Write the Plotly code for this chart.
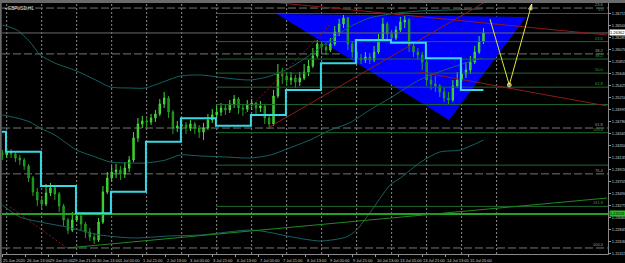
import plotly.graph_objects as go

# ---------------- data ----------------
# 3-hour candles; x = H1 bar index counted from 26 Jun 00:00
first_bar = -3
bar_step = 3
open0 = 1.24212
closes = [1.24176,1.24230,1.24194,1.24122,1.24086,1.23979,1.23764,1.23513,1.23370,1.23298,
 1.23495,1.23585,1.23477,1.23262,1.23011,1.22832,1.23011,1.23083,1.22940,1.22796,
 1.22707,1.22653,1.22975,1.23513,1.23764,1.23871,1.23907,1.23835,1.23943,1.24086,
 1.24481,1.24731,1.24785,1.24767,1.24839,1.24911,1.25090,1.25197,1.24946,1.24660,
 1.24696,1.24713,1.24660,1.24731,1.24660,1.24588,1.24660,1.24803,1.24893,1.24946,
 1.25018,1.24982,1.25090,1.25179,1.25018,1.25000,1.25072,1.25108,1.25018,1.25054,
 1.24839,1.24731,1.25233,1.25627,1.25591,1.25520,1.25556,1.25484,1.25556,1.25663,
 1.25771,1.25950,1.26165,1.26111,1.26057,1.26165,1.26380,1.26523,1.26631,1.26165,
 1.26021,1.25914,1.25878,1.25932,1.25878,1.26021,1.26236,1.26523,1.26344,1.26272,
 1.26416,1.26559,1.26595,1.26129,1.26021,1.25968,1.25842,1.25520,1.25448,1.25412,
 1.25305,1.25197,1.25161,1.25412,1.25520,1.25627,1.25699,1.25842,1.26021,1.26201,
 1.26362]
highs = [1.24265,1.24301,1.24283,1.24230,1.24176,1.24122,1.24015,1.23800,1.23585,1.23441,
 1.23656,1.23674,1.23620,1.23513,1.23298,1.23047,1.23155,1.23190,1.23119,1.22975,
 1.22868,1.22778,1.23047,1.23620,1.23871,1.23979,1.24015,1.23979,1.24050,1.24158,
 1.24588,1.24839,1.24875,1.24857,1.24911,1.24982,1.25179,1.25305,1.25233,1.24982,
 1.24785,1.24803,1.24767,1.24803,1.24767,1.24713,1.24749,1.24911,1.25000,1.25054,
 1.25108,1.25090,1.25161,1.25251,1.25215,1.25090,1.25161,1.25179,1.25126,1.25143,
 1.25090,1.24893,1.25341,1.25806,1.25735,1.25663,1.25663,1.25609,1.25663,1.25806,
 1.25878,1.26093,1.26236,1.26201,1.26165,1.26272,1.26487,1.26613,1.26684,1.26648,
 1.26201,1.26093,1.25986,1.26021,1.26003,1.26129,1.26344,1.26631,1.26559,1.26416,
 1.26487,1.26648,1.26666,1.26631,1.26165,1.26093,1.26021,1.25878,1.25627,1.25591,
 1.25448,1.25376,1.25305,1.25520,1.25663,1.25771,1.25842,1.25950,1.26129,1.26308,
 1.26451]
lows = [1.24086,1.24122,1.24122,1.24050,1.23997,1.23907,1.23692,1.23441,1.23262,1.23190,
 1.23262,1.23441,1.23370,1.23155,1.22904,1.22760,1.22796,1.22975,1.22832,1.22689,
 1.22635,1.22581,1.22617,1.22940,1.23477,1.23692,1.23764,1.23728,1.23764,1.23871,
 1.24050,1.24409,1.24660,1.24660,1.24713,1.24767,1.24875,1.25018,1.24839,1.24552,
 1.24588,1.24606,1.24552,1.24606,1.24552,1.24481,1.24445,1.24624,1.24749,1.24839,
 1.24875,1.24893,1.24928,1.25018,1.24911,1.24875,1.24946,1.24982,1.24911,1.24946,
 1.24731,1.24642,1.24696,1.25197,1.25448,1.25412,1.25430,1.25376,1.25412,1.25520,
 1.25591,1.25735,1.25914,1.26003,1.25968,1.26021,1.26129,1.26308,1.26451,1.26057,
 1.25914,1.25824,1.25806,1.25824,1.25806,1.25842,1.25986,1.26201,1.26236,1.26183,
 1.26236,1.26380,1.26451,1.26021,1.25932,1.25878,1.25699,1.25412,1.25341,1.25305,
 1.25215,1.25126,1.25090,1.25126,1.25376,1.25484,1.25556,1.25627,1.25806,1.25986,
 1.26165]

# envelope / band indicator lines
upper_bars = [-3, 7, 16, 23, 33, 48, 61, 71, 85, 95, 109, 119, 133, 150, 167, 181, 194, 208, 222, 235, 249, 263, 283, 304, 326]
upper_vals = [1.26505,1.26416,1.26201,1.25968,1.25824,1.25681,1.25520,1.25394,1.25376,1.25376,1.25502,1.25591,1.25609,
              1.25556,1.25520,1.25591,1.25735,1.25968,1.26236,1.26469,1.26631,1.26702,1.26756,1.26774,1.26792]
middle_bars = upper_bars
middle_vals = [1.24893,1.24839,1.24767,1.24660,1.24534,1.24265,1.24140,1.24050,1.24032,1.24032,1.24086,1.24176,1.24158,
               1.24140,1.24122,1.24176,1.24301,1.24445,1.24624,1.24749,1.24982,1.25197,1.25520,1.25735,1.25914]
lower_bars = [-3, 9, 23, 41, 64, 87, 112, 133, 167, 179, 192, 215, 233, 240, 249, 263, 270, 284, 297, 311, 327]
lower_vals = [1.23280,1.23065,1.22975,1.22886,1.22743,1.22689,1.22725,1.22743,1.22832,1.22796,1.22725,1.22635,1.22707,
              1.22832,1.23137,1.23638,1.23764,1.24050,1.24230,1.24265,1.24445]

# daily step line (cyan)
step_bars = [-3.5, -0.5, 23.5, 47.5, 71.5, 95.5, 119.5, 143.5, 167.5, 191.5, 215.5, 239.5, 263.5, 287.5, 311.5, 327]
step_vals = [1.24593,1.24235,1.23620,1.23131,1.23518,1.24414,1.24834,1.24701,1.24893,1.25341,1.25819,1.26236,1.26188,
             1.25908,1.25341,1.25341]

# drawing objects
tri_bars = [185.4, 356.2, 303.4]
tri_prices = [1.26702, 1.26648, 1.24803]
zig_bars = [331.5, 344.7, 360.1]
zig_prices = [1.26607, 1.25430, 1.26881]
red_solid = [[(166.9, 1.26953), (411.7, 1.26326)],
             [(283.5, 1.25663), (411.7, 1.25054)],
             [(179.2, 1.24660), (328.1, 1.26917)]]
red_dotted = [[(163.5, 1.24928), (221.7, 1.26505)],
              [(2.3, 1.23244), (41.4, 1.22510)]]
green_trend = [(41.4, 1.22510), (411.7, 1.23405)]
hline_price = 1.23119

fib_ratios = [0.236, 0.382, 0.618, 0.764, 1.0]
fib_gray_labels = ["23.6", "38.2", "61.8", "76.4", "100.0"]
fib_gray_p0, fib_gray_p100 = 1.28136, 1.22510
fib_green_ratios = [0.0, 0.236, 0.382, 0.5, 0.618, 0.764, 1.0, 1.272, 1.618]
fib_green_labels = ["0.0", "23.6", "38.2", "50.0", "61.8", "", "100.0", "", "161.8"]
fib_green_p0, fib_green_p100 = 1.26711, 1.24575
fib_green_start = 144

day_separators = [0, 24, 48, 72, 96, 120, 144, 168, 192, 216, 240, 264, 288, 312, 336]
time_label_bars = [-3, 13, 29, 45, 61, 77, 93, 109, 125, 141, 157, 173, 189, 205, 221, 237, 253, 269, 285, 301, 317]
time_labels = ["25 Jun 2020", "26 Jun 13:00", "29 Jun 05:00", "29 Jun 21:00", "30 Jun 13:00", "1 Jul 05:00",
               "1 Jul 21:00", "2 Jul 13:00", "3 Jul 05:00", "3 Jul 21:00", "6 Jul 13:00", "7 Jul 05:00",
               "7 Jul 21:00", "8 Jul 13:00", "9 Jul 05:00", "9 Jul 21:00", "10 Jul 13:00", "13 Jul 05:00",
               "13 Jul 21:00", "14 Jul 13:00", "15 Jul 05:00"]
price_ticks = [1.22415 + 0.00215 * k for k in range(21)]

X_RANGE = [-3.22, 412.4]
Y_RANGE = [1.22402, 1.26899]
FONT = "Liberation Sans"

# ---------------- figure ----------------
bars = [first_bar + bar_step * i for i in range(len(closes))]
opens = [open0] + closes[:-1]

fig = go.Figure()
fig.add_trace(go.Candlestick(
    x=bars, open=opens, high=highs, low=lows, close=closes,
    increasing=dict(line=dict(color="#46dc38", width=1), fillcolor="#2cb82c"),
    decreasing=dict(line=dict(color="#23a023", width=1), fillcolor="#148414"),
    whiskerwidth=0, showlegend=False, hoverinfo="skip"))

def line(x, y, color, width=1, dash=None, shape="linear"):
    fig.add_trace(go.Scatter(x=x, y=y, mode="lines", hoverinfo="skip", showlegend=False,
                             line=dict(color=color, width=width, dash=dash, shape=shape, smoothing=0.7 if shape == "spline" else None)))

teal = "#176262"
line(upper_bars, upper_vals, teal, shape="spline")
line(middle_bars, middle_vals, teal, shape="spline")
line(lower_bars, lower_vals, teal, shape="spline")

# green fibonacci levels
for r, lab in zip(fib_green_ratios, fib_green_labels):
    p = fib_green_p0 + r * (fib_green_p100 - fib_green_p0)
    line([fib_green_start, X_RANGE[1]], [p, p], "#1f6a2e")
    if lab:
        fig.add_annotation(x=411.3, y=p, text=lab, showarrow=False, xanchor="right", yanchor="bottom",
                           font=dict(family=FONT, size=4, color="#3c9a4c"), yshift=-1)

# bid line
line(X_RANGE, [closes[-1], closes[-1]], "#6a6a6a")
# horizontal level line
line(X_RANGE, [hline_price, hline_price], "#22a322", width=2)
# green trend line
line([green_trend[0][0], green_trend[1][0]], [green_trend[0][1], green_trend[1][1]], "#1f8a1f")
# red lines
for seg in red_solid:
    line([seg[0][0], seg[1][0]], [seg[0][1], seg[1][1]], "#8e1a1a")
for seg in red_dotted:
    line([seg[0][0], seg[1][0]], [seg[0][1], seg[1][1]], "#8e1a1a", dash="2px,2px")
# cyan daily step
line(step_bars, step_vals, "#3ad8e2", width=2, shape="hv")
# yellow zigzag
fig.add_trace(go.Scatter(x=zig_bars, y=zig_prices, mode="lines+markers", hoverinfo="skip", showlegend=False,
                         line=dict(color="#e8e640", width=1),
                         marker=dict(color="#e8e640", size=[0, 4, 6], symbol=["circle", "circle", "arrow"],
                                     angleref="previous")))

shapes = []
# blue triangle
shapes.append(dict(type="path", layer="below", xref="x", yref="y", line=dict(width=0),
                   fillcolor="#0000fa",
                   path="M {},{} L {},{} L {},{} Z".format(tri_bars[0], tri_prices[0], tri_bars[1], tri_prices[1],
                                                           tri_bars[2], tri_prices[2])))
# day separators
for b in day_separators:
    shapes.append(dict(type="line", layer="below", xref="x", yref="paper", x0=b, x1=b, y0=0, y1=1,
                       line=dict(color="#8c8c8c", width=1, dash="2px,2px")))
# gray fibonacci dashed levels
for r, lab in zip(fib_ratios, fib_gray_labels):
    p = fib_gray_p0 + r * (fib_gray_p100 - fib_gray_p0)
    shapes.append(dict(type="line", layer="below", xref="paper", yref="y", x0=0, x1=1, y0=p, y1=p,
                       line=dict(color="#767676", width=1, dash="8px,3px")))
    fig.add_annotation(x=411.3, y=p, text=lab, showarrow=False, xanchor="right", yanchor="bottom",
                       font=dict(family=FONT, size=4, color="#9a9a9a"), yshift=-1)
# frame strips
shapes.append(dict(type="rect", xref="paper", yref="paper", x0=-0.01, x1=1.05, y0=1.0, y1=1.013,
                   fillcolor="#6a6a6a", line=dict(width=0)))
shapes.append(dict(type="rect", xref="paper", yref="paper", x0=-0.0034, x1=-0.0005, y0=-0.04, y1=1.0,
                   fillcolor="#6a6a6a", line=dict(width=0)))

# time labels
for b, t in zip(time_label_bars, time_labels):
    fig.add_annotation(x=b, y=0, yref="paper", text=t, showarrow=False, xanchor="left", yanchor="top",
                       xshift=-1, yshift=-2, font=dict(family=FONT, size=4, color="#d0d0d0"))

# price labels on the right
fig.add_annotation(x=1, xref="paper", y=closes[-1], text="{:.5f}".format(closes[-1]), showarrow=False,
                   xanchor="left", xshift=1, bgcolor="#ffffff", borderpad=0,
                   font=dict(family=FONT, size=4, color="#000000"))
fig.add_annotation(x=1, xref="paper", y=hline_price, text="{:.5f}".format(hline_price), showarrow=False,
                   xanchor="left", xshift=1, bgcolor="#22c022", borderpad=0,
                   font=dict(family=FONT, size=4, color="#000000"))
# symbol title
fig.add_annotation(x=0, xref="paper", y=1, yref="paper", text="▪ GBPUSD,H1", showarrow=False,
                   xanchor="left", yanchor="top", xshift=1, yshift=-1,
                   font=dict(family=FONT, size=4.5, color="#e0e0e0"))

fig.update_layout(
    width=625, height=263, margin=dict(l=2, r=17, t=3, b=9),
    paper_bgcolor="#000000", plot_bgcolor="#000000", shapes=shapes,
    boxgap=0.55,
    xaxis=dict(range=X_RANGE, showgrid=False, zeroline=False, showticklabels=False,
               tickvals=time_label_bars, ticks="outside", ticklen=2, tickcolor="#9a9a9a",
               showline=True, linecolor="#8a8a8a", linewidth=1, mirror=False,
               rangeslider=dict(visible=False), fixedrange=True),
    yaxis=dict(range=Y_RANGE, side="right", showgrid=False, zeroline=False,
               tickvals=price_ticks, ticktext=["{:.5f}".format(v) for v in price_ticks],
               ticks="outside", ticklen=2, tickcolor="#9a9a9a",
               tickfont=dict(family=FONT, size=4, color="#d0d0d0"),
               showline=True, linecolor="#8a8a8a", linewidth=1, automargin=False, fixedrange=True),
    showlegend=False,
)

fig.write_html("out.html")
